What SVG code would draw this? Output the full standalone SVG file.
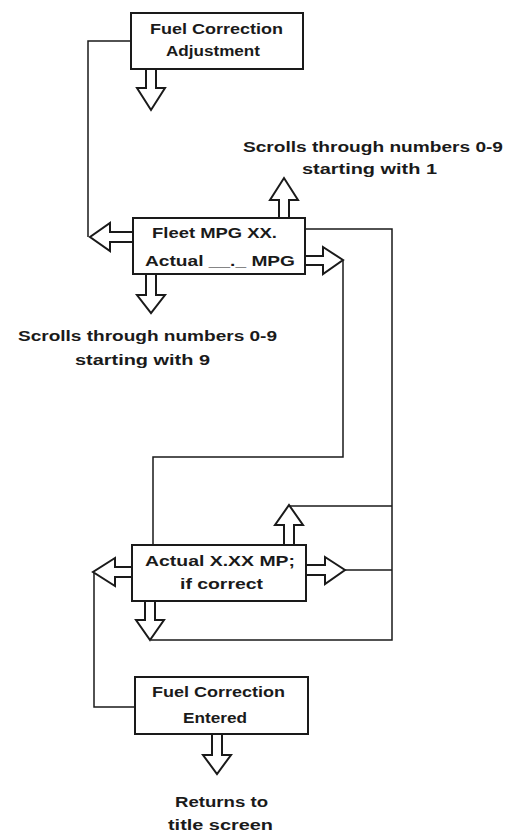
<svg xmlns="http://www.w3.org/2000/svg" width="518" height="834" viewBox="0 0 518 834">
<style>
.box{fill:#fff;stroke:#1a1a1a;stroke-width:2}
.ln{fill:none;stroke:#1a1a1a;stroke-width:1.5}
.ar{fill:#fff;stroke:#1a1a1a;stroke-width:2;stroke-linejoin:miter}
text{font-family:"Liberation Sans",Arial,sans-serif;font-weight:bold;font-size:14px;fill:#1a1a1a}
</style>
<rect width="518" height="834" fill="#fff"/>
<g id="connectors">
<path class="ln" d="M131,41 H88 V237"/>
<path class="ln" d="M305,229 H392 V640 H151"/>
<path class="ln" d="M289,506 H392"/>
<path class="ln" d="M345,570 H392"/>
<path class="ln" d="M343,260 V457 H153 V545"/>
<path class="ln" d="M94,572 V707 H135"/>
<!-- block arrows -->
<polygon class="ar" points="146,69 156,69 156,88 165,88 151,110 137,88 146,88"/>
<polygon class="ar" points="146,274 156,274 156,295 165,295 151,313 137,295 146,295"/>
<polygon class="ar" points="145,601 155,601 155,620 164,620 150,640 136,620 145,620"/>
<polygon class="ar" points="212,734 222,734 222,755 231,755 217,774 203,755 212,755"/>
<polygon class="ar" points="279,218 289,218 289,200 298,200 284,178 270,200 279,200"/>
<polygon class="ar" points="284,545 294,545 294,525 303,525 289,505 275,525 284,525"/>
<polygon class="ar" points="133,232 133,242 110,242 110,251 90,237 110,223 110,232"/>
<polygon class="ar" points="132,567 132,577 115,577 115,586 93,572 115,558 115,567"/>
<polygon class="ar" points="305,256 305,265 323,265 323,274 343,260 323,247 323,256"/>
<polygon class="ar" points="306,565 306,575 325,575 325,584 345,570 325,557 325,565"/>
</g>
<g id="fuel-correction-adjustment">
<rect class="box" x="131" y="13" width="172" height="56"/>
<text x="150" y="34" textLength="133" lengthAdjust="spacingAndGlyphs">Fuel Correction</text>
<text x="166" y="56" textLength="94" lengthAdjust="spacingAndGlyphs">Adjustment</text>
</g>
<g id="label-scroll-1">
<text x="243" y="152" textLength="260" lengthAdjust="spacingAndGlyphs">Scrolls through numbers 0-9</text>
<text x="302" y="174" textLength="135" lengthAdjust="spacingAndGlyphs">starting with 1</text>
</g>
<g id="fleet-mpg">
<rect class="box" x="133" y="218" width="172" height="56"/>
<text x="152" y="238" textLength="125" lengthAdjust="spacingAndGlyphs">Fleet MPG XX.</text>
<text x="145" y="266" textLength="150" lengthAdjust="spacingAndGlyphs">Actual __._ MPG</text>
</g>
<g id="label-scroll-9">
<text x="18" y="341" textLength="259" lengthAdjust="spacingAndGlyphs">Scrolls through numbers 0-9</text>
<text x="75" y="365" textLength="135" lengthAdjust="spacingAndGlyphs">starting with 9</text>
</g>
<g id="actual-if-correct">
<rect class="box" x="132" y="545" width="174" height="56"/>
<text x="145" y="566" textLength="150" lengthAdjust="spacingAndGlyphs">Actual X.XX MP;</text>
<text x="180" y="589" textLength="83" lengthAdjust="spacingAndGlyphs">if correct</text>
</g>
<g id="fuel-correction-entered">
<rect class="box" x="135" y="677" width="173" height="57"/>
<text x="152" y="697" textLength="133" lengthAdjust="spacingAndGlyphs">Fuel Correction</text>
<text x="183" y="723" textLength="64" lengthAdjust="spacingAndGlyphs">Entered</text>
</g>
<g id="label-returns">
<text x="175" y="807" textLength="93" lengthAdjust="spacingAndGlyphs">Returns to</text>
<text x="168" y="830" textLength="105" lengthAdjust="spacingAndGlyphs">title screen</text>
</g>
</svg>
